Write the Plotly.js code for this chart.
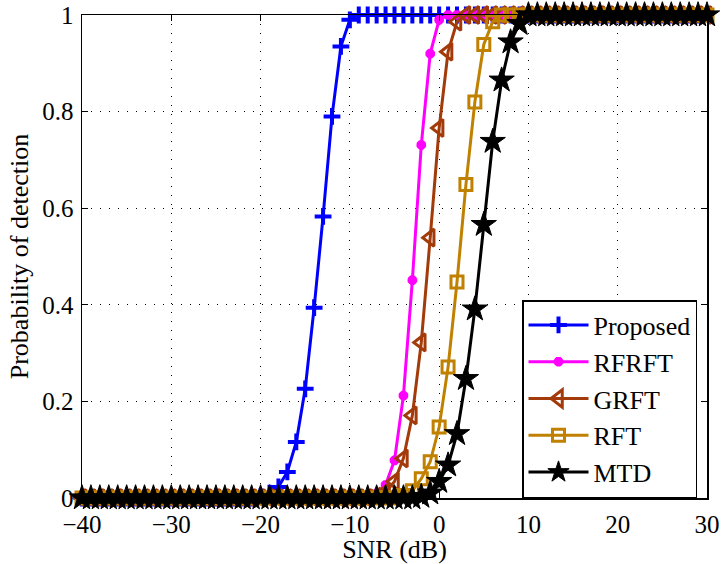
<!DOCTYPE html>
<html>
<head>
<meta charset="utf-8">
<script src="https://cdn.plot.ly/plotly-3.0.1.min.js"></script>
<style>html,body{margin:0;padding:0;background:#fff;}#chart{width:722px;height:564px;}</style>
</head>
<body>
<div id="chart"></div>
<script>
// SNR values (dB)
const snr = [-40,-39,-38,-37,-36,-35,-34,-33,-32,-31,-30,-29,-28,-27,-26,-25,-24,-23,-22,-21,
  -20,-19,-18,-17,-16,-15,-14,-13,-12,-11,-10,-9,-8,-7,-6,-5,-4,-3,-2,-1,
  0,1,2,3,4,5,6,7,8,9,10,11,12,13,14,15,16,17,18,19,20,21,22,23,24,25,26,27,28,29,30];

const proposed = [0,0,0,0,0,0,0,0,0,0,0,0,0,0,0,0,0,0,0,0,
  0.003,0.01,0.023,0.054,0.116,0.226,0.394,0.583,0.79,0.935,0.99,
  1,1,1,1,1,1,1,1,1,1,1,1,1,1,1,1,1,1,1,1,1,1,1,1,1,1,1,1,1,1,1,1,1,1,1,1,1,1,1];

const rfrft = [0,0,0,0,0,0,0,0,0,0,0,0,0,0,0,0,0,0,0,0,0,0,0,0,0,0,0,0,0,0,0,0,
  0.003,0.01,0.027,0.078,0.212,0.451,0.731,0.92,0.99,
  1,1,1,1,1,1,1,1,1,1,1,1,1,1,1,1,1,1,1,1,1,1,1,1,1,1,1,1,1,1];

const grft = [0,0,0,0,0,0,0,0,0,0,0,0,0,0,0,0,0,0,0,0,0,0,0,0,0,0,0,0,0,0,0,0,0,
  0.003,0.012,0.034,0.082,0.171,0.322,0.539,0.766,0.924,0.986,
  1,1,1,1,1,1,1,1,1,1,1,1,1,1,1,1,1,1,1,1,1,1,1,1,1,1,1,1];

const rft = [0,0,0,0,0,0,0,0,0,0,0,0,0,0,0,0,0,0,0,0,0,0,0,0,0,0,0,0,0,0,0,0,0,0,0,0,
  0.005,0.015,0.04,0.075,0.147,0.271,0.447,0.649,0.82,0.939,0.986,
  1,1,1,1,1,1,1,1,1,1,1,1,1,1,1,1,1,1,1,1,1,1,1,1];

const mtd = [0,0,0,0,0,0,0,0,0,0,0,0,0,0,0,0,0,0,0,0,0,0,0,0,0,0,0,0,0,0,0,0,0,0,0,0,0,0,
  0.003,0.01,0.034,0.068,0.133,0.247,0.391,0.566,0.738,0.865,0.944,0.982,
  1,1,1,1,1,1,1,1,1,1,1,1,1,1,1,1,1,1,1,1,1];

const seriesNames = ['Proposed','RFRFT','GRFT','RFT','MTD'];
const xTicks = [-40,-30,-20,-10,0,10,20,30];
const yTicks = [0,0.2,0.4,0.6,0.8,1];
const yTickLabels = ['0','0.2','0.4','0.6','0.8','1'];

const font = '"Liberation Serif", "Times New Roman", Times, serif';

function tr(y, name, color, symbol, size, lw) {
  return {
    x: snr, y: y, name: name, type: 'scatter', mode: 'lines+markers',
    line: {color: color, width: 3},
    marker: {symbol: symbol, size: size, color: color, line: {color: color, width: lw}},
    cliponaxis: false
  };
}

const data = [
  tr(proposed, seriesNames[0], '#0000ff', 'cross-thin', 12, 4),
  tr(rfrft, seriesNames[1], '#ff00ff', 'asterisk', 8, 3.5),
  tr(grft, seriesNames[2], '#a33a0a', 'triangle-left-open', 15, 3),
  tr(rft, seriesNames[3], '#c08000', 'square-open', 12, 3),
  tr(mtd, seriesNames[4], '#000000', 'star', 19, 1)
];

const axisCommon = {
  showline: true, mirror: 'ticks', linecolor: '#000', linewidth: 1.5,
  ticks: 'inside', ticklen: 6, tickcolor: '#000', tickwidth: 1,
  showgrid: true, gridcolor: '#000', gridwidth: 1, griddash: '1px,8px',
  zeroline: false, ticklabeloverflow: 'allow',
  tickfont: {family: font, size: 25, color: '#000'}
};

const layout = {
  width: 722, height: 564,
  margin: {l: 82, r: 15, t: 15, b: 66},
  paper_bgcolor: '#fff', plot_bgcolor: '#fff',
  font: {family: font},
  showlegend: true,
  xaxis: Object.assign({}, axisCommon, {
    range: [-40, 30], tickvals: xTicks, ticklabelstandoff: 3,
    title: {text: 'SNR (dB)', font: {family: font, size: 26, color: '#000'}, standoff: 4}
  }),
  yaxis: Object.assign({}, axisCommon, {
    range: [0, 1], tickvals: yTicks, ticktext: yTickLabels, ticklabelstandoff: 2,
    title: {text: 'Probability of detection', font: {family: font, size: 26, color: '#000'}, standoff: 6}
  }),
  legend: {
    x: 0.984, y: 0.0, xanchor: 'right', yanchor: 'bottom',
    bgcolor: '#fff', bordercolor: '#000', borderwidth: 1.5,
    font: {family: font, size: 26, color: '#000'},
    itemwidth: 60, tracegroupgap: 0
  }
};

Plotly.newPlot('chart', data, layout, {displayModeBar: false, staticPlot: true});
</script>
</body>
</html>
